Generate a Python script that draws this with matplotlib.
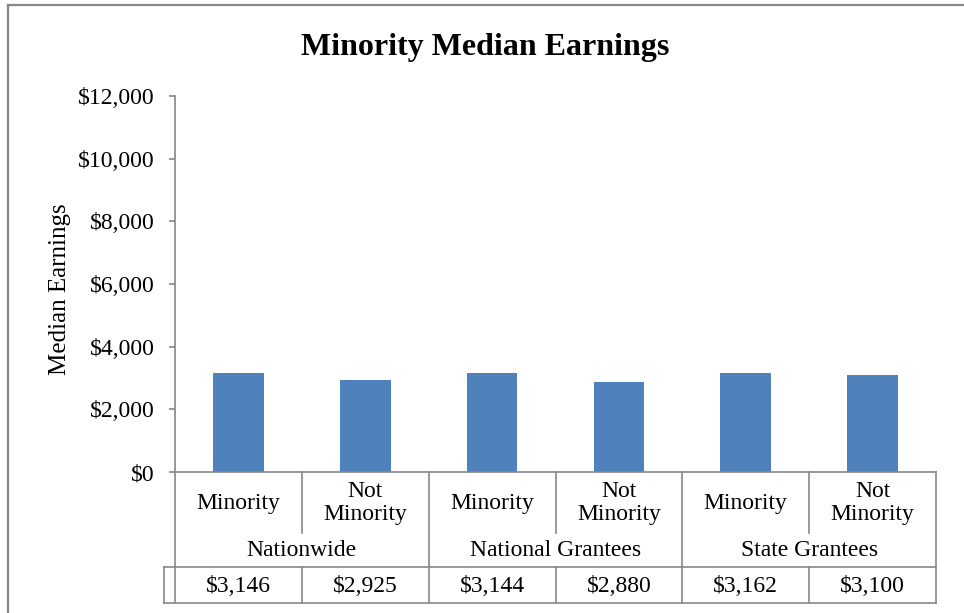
import matplotlib
matplotlib.use("Agg")
import matplotlib.pyplot as plt
from matplotlib.lines import Line2D

# data
groups = ["Nationwide", "National Grantees", "State Grantees"]
sub_labels = ["Minority", "Not\nMinority"] * 3
earnings = [3146, 2925, 3144, 2880, 3162, 3100]
yticks = [0, 2000, 4000, 6000, 8000, 10000, 12000]

W, H = 964, 613
plt.rcParams['font.family'] = ['Liberation Serif', 'DejaVu Serif']
fig = plt.figure(figsize=(W / 100, H / 100), dpi=100)

# plot area in pixels
x0, x1, ytop, ybot = 175, 936, 96, 472
ax = fig.add_axes([x0 / W, 1 - ybot / H, (x1 - x0) / W, (ybot - ytop) / H])

grey = "#878787"
blue = "#4F81BD"

ax.bar(range(len(earnings)), earnings, width=0.4, color=blue)
ax.set_xlim(-0.5, len(earnings) - 0.5)
ax.set_ylim(0, 12000)
ax.set_yticks(yticks)
ax.set_yticklabels(["${:,}".format(v) for v in yticks], fontsize=17)
ax.tick_params(axis='y', direction='out', length=4.5, width=1.2, color=grey, pad=10)
ax.tick_params(axis='x', bottom=False, labelbottom=False)
for s in ["top", "right"]:
    ax.spines[s].set_visible(False)
for s in ["left", "bottom"]:
    ax.spines[s].set_color(grey)
    ax.spines[s].set_linewidth(1.2)

ax.set_ylabel("Median Earnings", fontsize=18)
ax.yaxis.set_label_coords((71 - x0) / (x1 - x0), (ybot - 289) / (ybot - ytop))
fig.text(485 / W, 1 - 47 / H, "Minority Median Earnings", fontsize=23,
         fontweight='bold', ha='center', va='center')

# table below the axis: x in data units, y in axes fraction
tr = ax.get_xaxis_transform()
def fy(py):
    return (ybot - py) / (ybot - ytop)

r1, r2, r3 = fy(533), fy(567), fy(603)
n = len(earnings)
lkw = dict(color=grey, lw=1.2, transform=tr, clip_on=False)

# vertical lines
for i in range(n + 1):
    xb = i - 0.5
    if i % 2 == 0:
        ax.add_line(Line2D([xb, xb], [0, r3], **lkw))
    else:
        ax.add_line(Line2D([xb, xb], [0, r1], **lkw))
        ax.add_line(Line2D([xb, xb], [r2, r3], **lkw))

# horizontal lines for value row, with small key cell on the left
xkey = -0.5 - (x0 - 164) / ((x1 - x0) / n)
ax.add_line(Line2D([xkey, n - 0.5], [r2, r2], **lkw))
ax.add_line(Line2D([xkey, n - 0.5], [r3, r3], **lkw))
ax.add_line(Line2D([xkey, xkey], [r2, r3], **lkw))

for i, lab in enumerate(sub_labels):
    ax.text(i, fy(503), lab, transform=tr, ha='center', va='center',
            fontsize=17, linespacing=1.1)
for g, name in enumerate(groups):
    ax.text(2 * g + 0.5, fy(550), name, transform=tr, ha='center',
            va='center', fontsize=17)
for i, v in enumerate(earnings):
    ax.text(i, fy(586), "${:,}".format(v), transform=tr, ha='center',
            va='center', fontsize=17)

# outer chart frame (continues beyond the image)
fig.add_artist(Line2D([8 / W, 8 / W], [0, 1 - 5 / H], color=grey, lw=1.6))
fig.add_artist(Line2D([8 / W, 1], [1 - 5 / H, 1 - 5 / H], color=grey, lw=1.6))

fig.savefig("out.png", dpi=100)
